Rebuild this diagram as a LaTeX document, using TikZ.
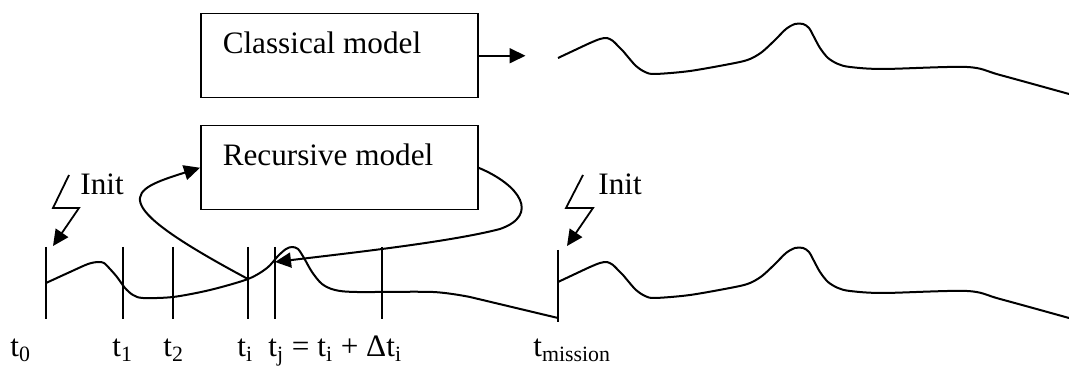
\documentclass[tikz,border=0pt]{standalone}
\usepackage{fontspec}
\setmainfont{Liberation Serif}
\usetikzlibrary{arrows.meta,positioning}
\tikzset{
  >={Triangle[length=8pt,width=7.5pt]},
  every node/.style={font=\fontsize{15.6}{18}\selectfont},
}

\begin{document}
\begin{tikzpicture}[
  x=0.5pt, y=-0.5pt,
  model/.style={draw, line width=0.75pt, anchor=north west,
    minimum width=138.5pt, minimum height=42pt,
    inner xsep=11pt, inner ysep=0pt, text height=20pt, text depth=22pt},
  wave/.style={line width=1pt, line join=round},
  tick/.style={line width=0.9pt},
  lbl/.style={anchor=base west, inner sep=0pt},
]
\useasboundingbox (0,0) rectangle (1069,367);

% the two models
\node[model] (classical) at (200,13) {\makebox[116.5pt][l]{Classical model}};
\node[model] (recursive) at (200,125) {\makebox[116.5pt][l]{Recursive model}};
\coordinate[right=23.5pt of classical.east] (out);
\draw[->, tick] (classical.east) -- (out);

% classical output and the run after t_mission
\foreach \dy in {0,-112}
  \draw[wave, yshift=\dy pt] plot[smooth] coordinates {(558,58) (575,50) (590,43)
    (600,39) (607,38) (613,41) (618,46) (623,51) (628,57) (636,66) (645,72) (655,74) (690,71)
    (735,63) (750,59) (762,52) (775,40) (786,29) (795,24) (803,24) (809,28) (814,37)
    (820,48) (828,58) (838,64) (850,67) (883,69) (967,67) (1000,75) (1069,94)};

% recursive run
\draw[wave] plot[smooth] coordinates {(46,283) (70,272) (88,264) (98,262) (104,263)
  (110,269) (117,277) (125,288) (133,295) (143,298) (173,297) (210,290) (248,279)
  (267,268) (278,256) (286,249) (292,247) (298,249) (304,258) (312,272) (322,284)
  (335,290) (357,292) (433,292) (470,297)} -- (558,318);

% time marks
\foreach \x in {46,123,173,248,275,382}
  \draw[tick] (\x,247) -- (\x,319);
\draw[tick] (558,250) -- (558,322);

\coordinate (ti) at (248,279);
\coordinate (tjmark) at (275,262);

% feedback loop
\draw[->, wave] (ti) .. controls (100,200) and (130,190) .. (recursive.west);
\draw[->, wave] (recursive.east) .. controls (520,185) and (540,215) .. (500,229)
  .. controls (450,242) and (350,253) .. (tjmark);

% init
\node[lbl] (init0) at (80,195) {Init};
\coordinate (hit0) at (53,246);
\draw[->, tick] (69,175) -- (53,208) -- (79,208) -- (hit0);
\node[lbl] (init1) at (598,195) {Init};
\coordinate (hit1) at (567,246);
\draw[->, tick] (583,175) -- (566,208) -- (593,208) -- (hit1);

% labels
\node[lbl] (lt0) at (10,357) {t\textsubscript{0}};
\node[lbl] (lt1) at (112,357) {t\textsubscript{1}};
\node[lbl] (lt2) at (163,357) {t\textsubscript{2}};
\node[lbl] (lti) at (237,357) {t\textsubscript{i}};
\node[lbl] (ltj) at (268,357) {t\textsubscript{j} = t\textsubscript{i} + Δt\textsubscript{i}};
\node[lbl] (ltm) at (533,357) {t\textsubscript{mission}};

\end{tikzpicture}
\end{document}
